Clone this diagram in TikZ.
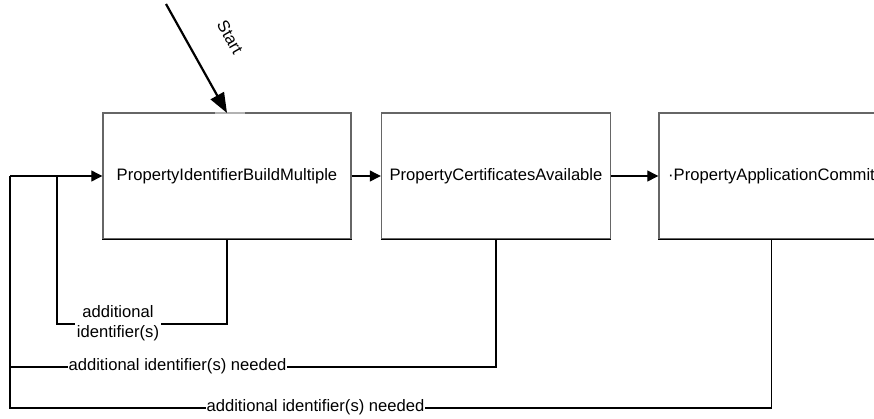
\documentclass[tikz,border=0pt]{standalone}
\usepackage{fontspec}
\setmainfont{Liberation Sans}
\usetikzlibrary{arrows.meta}
\begin{document}
\begin{tikzpicture}[x=1pt,y=-1pt,
  every node/.style={font=\fontsize{16.6}{20}\selectfont},
  stbox/.style={draw=black!60, line width=1.4pt, minimum height=126pt, inner sep=0pt},
  conn/.style={draw=black, line width=1.2pt},
  arr/.style={conn, -{Triangle[length=11pt,width=11pt]}},
  lab/.style={fill=white, inner sep=2pt, align=center}]
\useasboundingbox (0,0) rectangle (874,418);
\clip (0,0) rectangle (874,418);
\node[stbox, minimum width=248pt] (b1) at (227,176) {PropertyIdentifierBuildMultiple};
\node[stbox, minimum width=229pt] (b2) at (496,176) {PropertyCertificatesAvailable};
\node[stbox, minimum width=225pt] (b3) at (771.5,176) {{\textperiodcentered}PropertyApplicationCommit};
% black bottom edges
\draw[conn] (b1.south west) -- (b1.south east);
\draw[conn] (b2.south west) -- (b2.south east);
\draw[conn] (b3.south west) -- (b3.south east);
% light segment at start entry
\draw[black!30, line width=1.4pt] (215,113) -- (245,113);
% start arrow
\coordinate (st) at (166,4);
\coordinate (sten) at (227,113);
\draw[conn, line width=2.2pt, -{Triangle[length=20pt,width=15pt]}] (st) -- (sten);
\node[rotate=-60, inner sep=0pt] (stl) at (230,37) {Start};
% forward arrows
\draw[arr] (b1.east) -- (b2.west);
\draw[arr] (b2.east) -- (b3.west);
% loops
\coordinate (j1) at (57,324);
\coordinate (j2) at (10,367);
\coordinate (j3) at (10,408);
\draw[conn] (b1.south) |- (j1) -- (j1 |- b1.west);
\draw[conn] (b2.south) |- (j2) -- (j2 |- b1.west);
\draw[conn] (b3.south) |- (j3) -- (j2);
\draw[arr] (j2 |- b1.west) -- (b1.west);
\node[lab] (l1) at (118,323) {additional\\identifier(s)};
\node[lab, inner sep=1pt] (l2) at (177.5,366) {additional identifier(s) needed};
\node[lab, inner sep=1pt] (l3) at (315.5,407) {additional identifier(s) needed};
\end{tikzpicture}
\end{document}
